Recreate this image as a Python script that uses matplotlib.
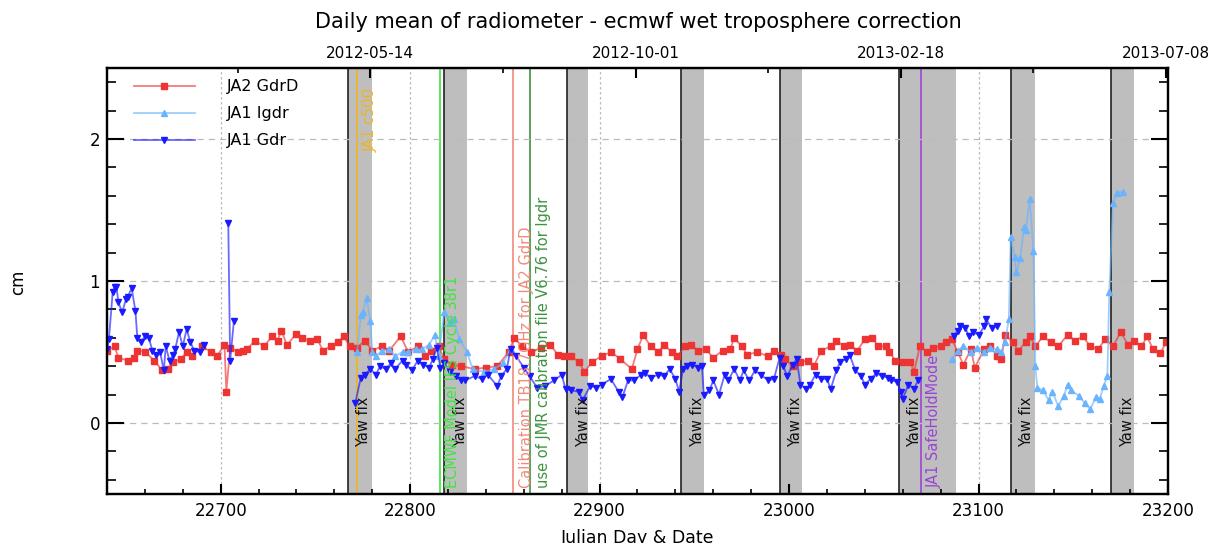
import matplotlib
matplotlib.use("Agg")
import matplotlib.pyplot as plt
import numpy as np
from matplotlib.ticker import MultipleLocator, FixedLocator

nan = float("nan")

# ── Data ─────────────────────────────────────────────────────────────────────
gdrd_day = [22640, 22644, 22646, 22651, 22654, 22656, 22660, 22665, 22669, 22672,
            22675, 22679, 22682, 22685, 22690, 22695, 22698, 22702, 22703, 22705,
            22709, 22712, 22714, 22718, 22723, 22727, 22730, 22732, 22735, 22740,
            22743, 22747, 22751, 22754, 22758, 22762, 22765, 22768, 22772, 22776,
            22780, 22785, 22789, 22795, 22799, 22804, 22808, 22811, 22815, 22818,
            22822, 22827, 22834, 22840, 22846, 22852, 22855, 22859, 22864, 22869,
            22874, 22878, 22881, 22885, 22889, 22892, 22896, 22901, 22906, 22911,
            22917, 22920, 22923, 22927, 22931, 22934, 22938, 22941, 22945, 22948,
            22952, 22956, 22960, 22965, 22969, 22971, 22975, 22978, 22983, 22989,
            22992, 22996, 22998, 23002, 23006, 23010, 23013, 23017, 23022, 23025,
            23029, 23032, 23036, 23040, 23044, 23047, 23051, 23053, 23056, 23060,
            23064, 23066, 23069, 23073, 23076, 23080, 23083, 23086, 23089, 23092,
            23096, 23098, 23103, 23106, 23110, 23112, 23114, 23118, 23121, 23125,
            23127, 23130, 23134, 23138, 23142, 23147, 23151, 23155, 23159, 23163,
            23167, 23171, 23175, 23179, 23182, 23186, 23189, 23192, 23196, 23199]
gdrd_val = [0.51, 0.54, 0.46, 0.44, 0.46, 0.51, 0.50, 0.44, 0.37, 0.38,
            0.43, 0.45, 0.50, 0.47, 0.54, 0.50, 0.47, 0.55, 0.22, 0.53,
            0.50, 0.51, 0.52, 0.58, 0.54, 0.61, 0.58, 0.65, 0.55, 0.63,
            0.60, 0.58, 0.59, 0.51, 0.54, 0.57, 0.61, 0.54, 0.53, 0.58,
            0.51, 0.54, 0.51, 0.61, 0.50, 0.54, 0.47, 0.51, 0.54, 0.45,
            0.41, 0.40, 0.38, 0.39, 0.40, 0.50, 0.60, 0.54, 0.50, 0.53,
            0.55, 0.48, 0.47, 0.47, 0.43, 0.36, 0.43, 0.47, 0.50, 0.45,
            0.38, 0.52, 0.62, 0.54, 0.50, 0.55, 0.50, 0.47, 0.54, 0.55,
            0.51, 0.52, 0.46, 0.51, 0.52, 0.60, 0.54, 0.48, 0.50, 0.47,
            0.51, 0.48, 0.45, 0.40, 0.43, 0.44, 0.40, 0.51, 0.54, 0.58,
            0.54, 0.55, 0.51, 0.59, 0.60, 0.54, 0.54, 0.50, 0.44, 0.43,
            0.43, 0.36, 0.54, 0.50, 0.53, 0.54, 0.57, 0.59, 0.50, 0.41,
            0.52, 0.39, 0.52, 0.54, 0.47, 0.45, 0.62, 0.57, 0.51, 0.57,
            0.61, 0.54, 0.61, 0.57, 0.54, 0.62, 0.58, 0.61, 0.54, 0.52,
            0.59, 0.54, 0.64, 0.55, 0.58, 0.54, 0.61, 0.52, 0.49, 0.57]

igdr_day = [22772, 22774, 22775, 22777, 22779, 22780, 22782, 22785, 22789, 22792,
            22796, 22799, 22803, 22806, 22810, 22813, 22815, 22818, 22821, 22823,
            22826, 22830, 22833, 22839, 22844, 22849, 22853,
            nan,
            23086, 23089, 23092, 23096, 23099, 23103, 23106, 23110, 23112, 23114,
            23116, 23117, 23119, 23120, 23122, 23124, 23125, 23127, 23129, 23130,
            23131, 23134, 23137, 23139, 23142, 23145, 23147, 23149, 23153, 23156,
            23159, 23162, 23164, 23166, 23168, 23169, 23171, 23173, 23176]
igdr_val = [0.50, 0.76, 0.78, 0.88, 0.72, 0.50, 0.47, 0.51, 0.52, 0.47,
            0.50, 0.50, 0.52, 0.52, 0.55, 0.62, 0.47, 0.78, 0.71, 0.73,
            0.59, 0.50, 0.38, 0.36, 0.38, 0.42, 0.52,
            nan,
            0.45, 0.51, 0.54, 0.50, 0.53, 0.50, 0.53, 0.52, 0.50, 0.57,
            0.73, 1.31, 1.17, 1.06, 1.16, 1.38, 1.36, 1.58, 1.21, 0.40,
            0.25, 0.23, 0.16, 0.22, 0.12, 0.19, 0.27, 0.23, 0.19, 0.14,
            0.10, 0.18, 0.17, 0.26, 0.33, 0.92, 1.55, 1.62, 1.63]

gdr_day = [22640, 22641, 22643, 22644, 22645, 22646, 22648, 22650, 22651, 22653,
           22655, 22656, 22658, 22660, 22662, 22664, 22666, 22668, 22670, 22671,
           22673, 22675, 22676, 22678, 22680, 22682, 22684, 22686, 22689, 22691,
           nan,
           22704, 22705, 22707,
           nan,
           22771, 22774, 22776, 22779, 22782, 22784, 22787, 22790, 22792, 22796,
           22798, 22801, 22804, 22807, 22810, 22812, 22814, 22816, 22818, 22821,
           22824, 22827, 22829, 22834, 22838, 22841, 22846, 22848, 22851, 22853,
           22856, 22860, 22863, 22867, 22871, 22876, 22880, 22882, 22885, 22889,
           22891, 22895, 22898, 22901, 22906, 22910, 22912, 22915, 22918, 22922,
           22924, 22927, 22931, 22934, 22937, 22940, 22942, 22944, 22946, 22949,
           22952, 22954, 22955, 22958, 22960, 22963, 22966, 22968, 22971, 22974,
           22976, 22979, 22982, 22985, 22989, 22992, 22995, 22997, 22999, 23002,
           23004, 23006, 23009, 23011, 23014, 23017, 23020, 23022, 23025, 23027,
           23030, 23032, 23035, 23038, 23040, 23043, 23046, 23049, 23052, 23054,
           23057, 23059, 23060, 23063, 23066, 23068,
           nan,
           23087, 23089, 23090, 23093, 23095, 23097, 23100, 23103, 23104, 23107,
           23110]
gdr_val = [0.52, 0.59, 0.92, 0.96, 0.96, 0.85, 0.78, 0.87, 0.89, 0.95,
           0.79, 0.60, 0.57, 0.61, 0.60, 0.51, 0.48, 0.50, 0.37, 0.54,
           0.44, 0.48, 0.52, 0.64, 0.54, 0.66, 0.57, 0.51, 0.50, 0.55,
           nan,
           1.41, 0.44, 0.72,
           nan,
           0.14, 0.32, 0.34, 0.38, 0.34, 0.40, 0.38, 0.42, 0.38, 0.44,
           0.41, 0.37, 0.44, 0.41, 0.39, 0.45, 0.53, 0.39, 0.42, 0.36,
           0.33, 0.30, 0.30, 0.33, 0.31, 0.34, 0.26, 0.33, 0.38, 0.52,
           0.47, 0.39, 0.33, 0.25, 0.26, 0.30, 0.34, 0.24, 0.23, 0.22,
           0.16, 0.26, 0.25, 0.27, 0.31, 0.22, 0.18, 0.30, 0.30, 0.34,
           0.35, 0.32, 0.34, 0.33, 0.38, 0.31, 0.22, 0.38, 0.40, 0.41,
           0.39, 0.40, 0.20, 0.23, 0.30, 0.20, 0.34, 0.30, 0.38, 0.30,
           0.37, 0.30, 0.37, 0.34, 0.30, 0.31, 0.46, 0.40, 0.33, 0.41,
           0.45, 0.27, 0.24, 0.27, 0.34, 0.31, 0.31, 0.24, 0.37, 0.43,
           0.45, 0.48, 0.37, 0.33, 0.27, 0.31, 0.35, 0.33, 0.32, 0.30,
           0.29, 0.22, 0.17, 0.27, 0.24, 0.30,
           nan,
           0.61, 0.65, 0.68, 0.67, 0.61, 0.64, 0.62, 0.68, 0.73, 0.67,
           0.68]

# yaw-fix periods (start, end) in julian days
yaw_start = [22767, 22818, 22883, 22943, 22995, 23058, 23117, 23170]
yaw_end   = [22780, 22830, 22894, 22955, 23007, 23088, 23130, 23182]

# events
event_day   = [22772, 22815.5, 22854.5, 22863.5, 23069.5]
event_text  = ["JA1 c500", "ECMWF Model IFS Cycle 38r1",
               "Calibration TB18.7GHz for JA2 GdrD",
               "use of JMR calibration file V6.76 for Igdr", "JA1 SafeHoldMode"]
event_color = ["#f0b41e", "#3ee63e", "#f08a7a", "#3d9440", "#9a46d6"]

date_day   = [22779, 22919, 23059, 23199]
date_label = ["2012-05-14", "2012-10-01", "2013-02-18", "2013-07-08"]

# ── Plot ─────────────────────────────────────────────────────────────────────
fig = plt.figure(figsize=(12.25, 5.43), dpi=100)
ax = fig.add_axes([107 / 1225, 1 - 494 / 543, (1168 - 107) / 1225, (494 - 68) / 543])

for s, e in zip(yaw_start, yaw_end):
    ax.axvspan(s, e, color="#bebebe", zorder=1, lw=0)
    ax.axvline(s, color="#222222", lw=1.2, zorder=1.5)
    ax.text(s + 4.5, -0.17, "Yaw fix", rotation=90, ha="left", va="bottom",
            fontsize=10.5, color="#111111", zorder=5)

for d, t, c in zip(event_day, event_text, event_color):
    ax.axvline(d, color=c, lw=1.2, zorder=2)
    if t == "JA1 c500":
        ax.text(d + 3, 2.36, t, rotation=90, ha="left", va="top", color=c,
                fontsize=10.5, zorder=5)
    else:
        ax.text(d + 3, -0.46, t, rotation=90, ha="left", va="bottom", color=c,
                fontsize=10.5, zorder=5)

series = [
    (gdrd_day, gdrd_val, "#ee3333", "s", "JA2 GdrD"),
    (igdr_day, igdr_val, "#6ab4ff", "^", "JA1 Igdr"),
    (gdr_day, gdr_val, "#1a1aff", "v", "JA1 Gdr"),
]
for days, vals, col, mk, lab in series:
    rgba = matplotlib.colors.to_rgba(col, 0.65)
    ax.plot(np.array(days, float), np.array(vals, float), color=rgba, lw=1.3,
            marker=mk, ms=4.2, mfc=col, mec=col, label=lab, zorder=3)

ax.set_xlim(22640, 23200)
ax.set_ylim(-0.5, 2.5)
ax.xaxis.set_major_locator(MultipleLocator(100))
ax.xaxis.set_minor_locator(MultipleLocator(20))
ax.yaxis.set_major_locator(MultipleLocator(1))
ax.yaxis.set_minor_locator(MultipleLocator(0.2))
ax.tick_params(axis="x", which="major", direction="in", length=7, width=1.5,
               top=False, labelsize=12, pad=6)
ax.tick_params(axis="x", which="minor", direction="in", length=3.5, width=1.2, top=False)
ax.tick_params(axis="y", which="major", direction="in", length=12, width=1.5,
               right=True, labelsize=12, pad=5)
ax.tick_params(axis="y", which="minor", direction="in", length=6.5, width=1.2, right=True)
ax.grid(axis="x", which="major", color="#bbbbbb", ls=(0, (2, 2)), lw=0.9)
ax.grid(axis="y", which="major", color="#bbbbbb", ls=(0, (5, 4)), lw=0.9)
ax.set_axisbelow(False)
for sp in ax.spines.values():
    sp.set_linewidth(1.6)

leg = ax.legend(loc="upper left", frameon=False, fontsize=11.5, handlelength=3.8,
                handletextpad=2.0, labelspacing=0.75, numpoints=1,
                borderaxespad=0.3, bbox_to_anchor=(0.015, 1.0))

top = ax.twiny()
top.set_xlim(ax.get_xlim())
top.xaxis.set_major_locator(FixedLocator(date_day))
top.xaxis.set_minor_locator(FixedLocator([22709, 22849, 22989, 23129]))
top.set_xticklabels(date_label, fontsize=11)
top.tick_params(axis="x", which="major", direction="in", length=7, width=1.5, pad=5)
top.tick_params(axis="x", which="minor", direction="in", length=3.5, width=1.2)
for sp in top.spines.values():
    sp.set_linewidth(1.6)

ax.set_xlabel("Julian Day & Date", fontsize=12.5, labelpad=6)
fig.text(18 / 1225, 1 - 282 / 543, "cm", rotation=90, ha="center", va="center",
         fontsize=12)
fig.text(638 / 1225, 1 - 22 / 543, "Daily mean of radiometer - ecmwf wet troposphere correction",
         ha="center", va="center", fontsize=15)

fig.savefig("out.png", dpi=100)
